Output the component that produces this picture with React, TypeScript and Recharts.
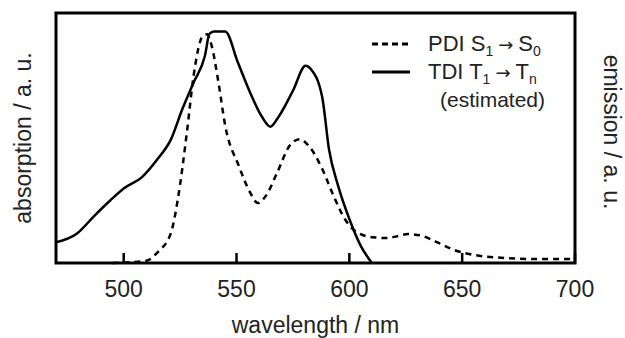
import React from 'react';
import { LineChart, Line, XAxis, YAxis, ReferenceArea } from 'recharts';

// TDI T1 -> Tn (estimated), solid
const tdiWavelength = [470, 479, 487, 494, 500, 508, 515, 521, 526, 531, 536, 538, 540, 545, 550.6, 556, 561, 565, 568, 575, 580.6, 583, 588, 591, 595, 600, 605, 610];
const tdiValue = [0.089, 0.125, 0.204, 0.27, 0.322, 0.37, 0.449, 0.535, 0.665, 0.78, 0.895, 0.99, 1.0, 1.0, 0.866, 0.737, 0.636, 0.589, 0.622, 0.744, 0.852, 0.837, 0.715, 0.49, 0.334, 0.19, 0.075, 0];

// PDI S1 -> S0, dashed
const pdiWavelength = [495, 510, 515, 521, 524, 528, 531, 535, 537, 539, 542, 545, 551, 556, 559.5, 563, 568, 573.5, 578, 582, 588, 593, 598, 603.5, 610.6, 616, 621, 626, 632, 639, 646, 653, 665, 683, 700];
const pdiValue = [0, 0.01, 0.046, 0.132, 0.276, 0.564, 0.81, 0.98, 0.988, 0.938, 0.78, 0.593, 0.42, 0.305, 0.259, 0.29, 0.39, 0.506, 0.535, 0.506, 0.406, 0.29, 0.19, 0.132, 0.111, 0.108, 0.115, 0.125, 0.118, 0.089, 0.058, 0.039, 0.024, 0.017, 0.017];

const xTicks = [500, 550, 600, 650, 700];

const tdiData = tdiWavelength.map((w, i) => ({ w, v: tdiValue[i] }));
const pdiData = pdiWavelength.map((w, i) => ({ w, v: pdiValue[i] }));

const font = '"Liberation Sans", Arial, sans-serif';
const textColor = '#222';
const subStyle = { fontSize: 14, verticalAlign: -5, lineHeight: 0 };
const arrowStyle = { fontFamily: '"DejaVu Sans", sans-serif', fontSize: 18, margin: '0 5px' };

const LegendBox = () => (
    <div style={{ position: 'absolute', left: 370, top: 30, fontFamily: font, fontSize: 22, color: textColor, lineHeight: '28px', whiteSpace: 'nowrap' }}>
        <div style={{ display: 'flex', alignItems: 'center', height: 28 }}>
            <svg width={58} height={10}>
                <line x1={2} y1={5} x2={40} y2={5} stroke="#000" strokeWidth={3} strokeDasharray="6 4" />
            </svg>
            <span>PDI S<span style={subStyle}>1</span><span style={arrowStyle}>→</span>S<span style={subStyle}>0</span></span>
        </div>
        <div style={{ display: 'flex', alignItems: 'center', height: 28 }}>
            <svg width={58} height={10}>
                <line x1={2} y1={5} x2={40} y2={5} stroke="#000" strokeWidth={3} />
            </svg>
            <span>TDI T<span style={subStyle}>1</span><span style={arrowStyle}>→</span>T<span style={subStyle}>n</span></span>
        </div>
        <div style={{ paddingLeft: 70, height: 28, fontSize: 21 }}>(estimated)</div>
    </div>
);

export default function App() {
    return (
        <div style={{ position: 'absolute', left: 0, top: 0, width: 625, height: 338, background: '#fff' }}>
            <LineChart width={625} height={338} margin={{ top: 13, right: 0, left: 0, bottom: 0 }}>
                <XAxis
                    dataKey="w"
                    type="number"
                    domain={[470, 700]}
                    ticks={xTicks}
                    allowDataOverflow
                    height={75}
                    tickSize={-10}
                    tickMargin={28}
                    axisLine={false}
                    tickLine={{ stroke: '#000', strokeWidth: 2.5 }}
                    tick={{ fill: textColor, fontSize: 23, fontFamily: font }}
                    label={{ value: 'wavelength / nm', position: 'insideBottom', offset: 5, fill: textColor, fontSize: 23, fontFamily: font }}
                />
                <YAxis
                    yAxisId="l"
                    domain={[0, 1.08]}
                    width={56}
                    tick={false}
                    axisLine={false}
                    tickLine={false}
                    label={{ value: 'absorption / a. u.', angle: -90, position: 'insideLeft', offset: 23, style: { textAnchor: 'middle' }, fill: textColor, fontSize: 23, fontFamily: font }}
                />
                <YAxis
                    yAxisId="r"
                    orientation="right"
                    domain={[0, 1.08]}
                    width={50}
                    tick={false}
                    axisLine={false}
                    tickLine={false}
                    label={{ value: 'emission / a. u.', angle: 90, position: 'insideRight', offset: 13, dy: -6, style: { textAnchor: 'middle' }, fill: textColor, fontSize: 23, fontFamily: font }}
                />
                <Line
                    yAxisId="l"
                    data={pdiData}
                    dataKey="v"
                    type="monotone"
                    stroke="#000"
                    strokeWidth={2.5}
                    strokeDasharray="6 5"
                    dot={false}
                    isAnimationActive={false}
                />
                <Line
                    yAxisId="l"
                    data={tdiData}
                    dataKey="v"
                    type="monotone"
                    stroke="#000"
                    strokeWidth={2.5}
                    dot={false}
                    isAnimationActive={false}
                />
                <ReferenceArea yAxisId="l" x1={470} x2={700} y1={0} y2={1.08} fill="none" stroke="#000" strokeWidth={3} />
            </LineChart>
            <LegendBox />
        </div>
    );
}
